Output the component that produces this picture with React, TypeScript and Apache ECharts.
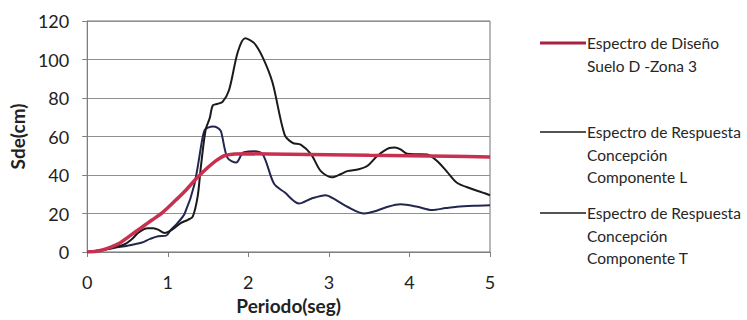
import React, { useEffect, useRef } from "react";
import * as echarts from "echarts";

// Design spectrum, soil D - zone 3
const designT = [0, 0.1, 0.2, 0.3, 0.4, 0.5, 0.6, 0.7, 0.8, 0.92, 1.0, 1.1, 1.2, 1.37, 1.5, 1.6, 1.7, 1.8, 2.0, 2.5, 3.0, 3.5, 4.0, 4.5, 5.0];
const designSd = [0, 0.3, 1.2, 2.6, 4.5, 7.5, 10.5, 13.5, 16.5, 20, 23, 27, 31, 38.8, 44, 47.5, 50, 50.8, 51, 50.8, 50.5, 50.2, 50, 49.7, 49.4];

// Response spectrum, Concepción, component L
const compLT = [0, 0.2, 0.34, 0.46, 0.55, 0.63, 0.7, 0.75, 0.82, 0.88, 0.96, 1.05, 1.16, 1.25, 1.31, 1.37, 1.41, 1.47, 1.52, 1.56, 1.62, 1.68, 1.76, 1.87, 1.96, 2.07, 2.18, 2.3, 2.45, 2.55, 2.65, 2.78, 2.9, 3.04, 3.15, 3.23, 3.37, 3.48, 3.6, 3.75, 3.82, 3.89, 3.97, 4.1, 4.22, 4.35, 4.47, 4.59, 4.76, 4.9, 5.0];
const compLSd = [0, 1.2, 2.4, 3.9, 6.5, 9.9, 11.8, 12.4, 12.3, 11.6, 9.9, 11.5, 15, 16.7, 18.4, 28.6, 44, 63.5, 69.5, 76.2, 77, 78, 84, 104, 111, 108.6, 101, 88, 61, 56.7, 55.8, 50.7, 42, 38.8, 40.5, 42, 43, 44.8, 49.9, 54, 54.3, 53.3, 51, 50.8, 50.7, 47, 41.5, 36, 33, 31, 29.5];

// Response spectrum, Concepción, component T
const compTT = [0, 0.2, 0.34, 0.5, 0.67, 0.78, 0.88, 0.98, 1.04, 1.12, 1.21, 1.33, 1.43, 1.46, 1.5, 1.56, 1.62, 1.66, 1.74, 1.85, 1.93, 2.0, 2.07, 2.18, 2.32, 2.45, 2.63, 2.78, 2.96, 3.06, 3.23, 3.44, 3.56, 3.73, 3.89, 4.1, 4.28, 4.45, 4.59, 4.8, 5.0];
const compTSd = [0, 1.0, 2.2, 3.3, 4.8, 6.8, 8.2, 8.5, 11.6, 15, 20, 35, 59, 63.5, 64.6, 65.2, 64.5, 62.7, 49, 46.5, 51.6, 52.2, 52.4, 50.7, 35.4, 31, 25.2, 27.7, 29.5, 27.7, 23.5, 20, 21, 23.5, 24.8, 23.5, 21.8, 22.8, 23.5, 24, 24.3];

const yTicks = [0, 20, 40, 60, 80, 100, 120];
const xTicks = [0, 1, 2, 3, 4, 5];

const seriesNames = [
  ["Espectro de Diseño", "Suelo D -Zona 3"],
  ["Espectro de Respuesta", "Concepción", "Componente L"],
  ["Espectro de Respuesta", "Concepción", "Componente T"],
];
const seriesColors = ["#c8304f", "#1a1a1a", "#23264f"];
const legendLineColors = ["#a8213f", "#1a1a1a", "#1a1a1a"];
const seriesWidths = [3.5, 2, 2];

const FONT = "Lato, 'Open Sans', sans-serif";

const zip = (xs: number[], ys: number[]) => xs.map((x, i) => [x, ys[i]]);

export default function App() {
  const ref = useRef<HTMLDivElement>(null);

  useEffect(() => {
    document.body.style.margin = "0";
    if (!ref.current) return;
    const chart = echarts.init(ref.current, undefined, { renderer: "svg" });

    const data = [zip(designT, designSd), zip(compLT, compLSd), zip(compTT, compTSd)];

    // Legend drawn as graphic: a short line beside a multi-line label
    const legendTops = [43, 132, 213];
    const legendGraphics: any[] = [];
    seriesNames.forEach((lines, i) => {
      legendGraphics.push({
        type: "line",
        shape: { x1: 540, y1: legendTops[i], x2: 586, y2: legendTops[i] },
        style: { stroke: legendLineColors[i], lineWidth: i === 0 ? 3 : 1.5 },
      });
      lines.forEach((t, j) => {
        legendGraphics.push({
          type: "text",
          x: 587,
          y: legendTops[i] + j * 22.5,
          style: {
            text: t,
            fill: "#262626",
            font: `15.5px ${FONT}`,
            textVerticalAlign: "middle",
            textAlign: "left",
          },
        });
      });
    });

    chart.setOption({
      animation: false,
      backgroundColor: "#ffffff",
      grid: {
        left: 86,
        right: 257,
        top: 21,
        bottom: 64,
        show: true,
        borderColor: "#707070",
        borderWidth: 1,
      },
      xAxis: {
        type: "value",
        min: xTicks[0],
        max: xTicks[xTicks.length - 1],
        interval: 1,
        name: "Periodo(seg)",
        nameLocation: "middle",
        nameGap: 44,
        nameTextStyle: { fontFamily: FONT, fontWeight: "bold", fontSize: 19, color: "#222" },
        axisLine: { show: true, lineStyle: { color: "#808080", width: 1 } },
        axisTick: { show: true, length: 5, lineStyle: { color: "#808080" } },
        axisLabel: { fontFamily: FONT, fontSize: 18, color: "#222", margin: 21 },
        splitLine: { show: false },
      },
      yAxis: {
        type: "value",
        min: yTicks[0],
        max: yTicks[yTicks.length - 1],
        interval: 20,
        name: "Sde(cm)",
        nameLocation: "middle",
        nameGap: 58,
        nameRotate: 90,
        nameTextStyle: { fontFamily: FONT, fontWeight: "bold", fontSize: 19, color: "#222" },
        axisLine: { show: true, lineStyle: { color: "#808080", width: 1 } },
        axisTick: { show: true, length: 5, lineStyle: { color: "#808080" } },
        axisLabel: { fontFamily: FONT, fontSize: 18, color: "#222", margin: 18 },
        splitLine: { show: true, lineStyle: { color: "#909090", width: 1 } },
      },
      series: data.map((d, i) => ({
        type: "line",
        name: seriesNames[i].join(" "),
        data: d,
        showSymbol: false,
        smooth: 0.3,
        z: 3 - i,
        lineStyle: { color: seriesColors[i], width: seriesWidths[i] },
      })),
      graphic: legendGraphics,
    });

    return () => chart.dispose();
  }, []);

  return <div ref={ref} style={{ width: 747, height: 320 }} />;
}
